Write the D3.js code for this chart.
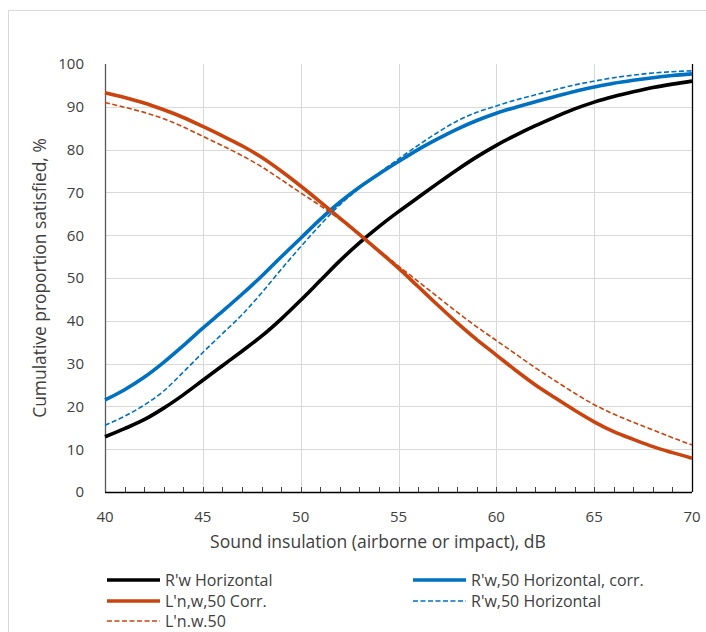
<!DOCTYPE html>
<html>
<head>
<meta charset="utf-8">
<script src="https://cdn.jsdelivr.net/npm/d3@7/dist/d3.min.js"></script>
<style>
  body { margin: 0; background: #fff; }
  text { font-family: "Open Sans", sans-serif; fill: #404040; }
</style>
</head>
<body>
<svg id="chart" width="706" height="632"></svg>
<script>
// sound insulation, dB
const dB = [40, 41, 42, 43, 44, 45, 46, 47, 48, 49, 50, 51, 52, 53, 54, 55,
            56, 57, 58, 59, 60, 61, 62, 63, 64, 65, 66, 67, 68, 69, 70];

// cumulative proportion satisfied, %
const rwHoriz = [12.9, 14.8, 16.9, 19.6, 22.7, 26.1, 29.5, 32.9, 36.4, 40.4, 44.8,
                 49.4, 54.0, 58.2, 62.0, 65.5, 68.8, 72.1, 75.3, 78.3, 81.0,
                 83.4, 85.6, 87.6, 89.5, 91.1, 92.4, 93.5, 94.5, 95.3, 96.0];
const rw50HorizCorr = [21.5, 23.9, 26.8, 30.3, 34.2, 38.3, 42.2, 46.2, 50.4, 54.9, 59.3,
                       63.7, 67.7, 71.2, 74.3, 77.2, 80.0, 82.5, 84.8, 86.8, 88.5,
                       89.9, 91.2, 92.4, 93.6, 94.6, 95.5, 96.2, 96.8, 97.3, 97.7];
const ln50Corr = [93.3, 92.2, 90.9, 89.3, 87.5, 85.4, 83.2, 80.9, 78.2, 75.0, 71.5,
                  67.8, 64.0, 60.2, 56.3, 52.3, 48.0, 43.7, 39.5, 35.6, 32.0,
                  28.4, 25.0, 22.0, 19.1, 16.4, 14.1, 12.3, 10.6, 9.2, 7.9];
const rw50Horiz = [15.6, 17.7, 20.3, 23.6, 28.0, 32.6, 37.0, 41.4, 46.5, 52.0, 57.3,
                   62.4, 67.1, 71.0, 74.5, 77.8, 81.0, 84.0, 86.7, 88.7, 90.2,
                   91.6, 92.8, 94.0, 95.1, 96.0, 96.8, 97.4, 97.9, 98.2, 98.4];
const ln50 = [91.0, 89.9, 88.7, 87.2, 85.3, 83.1, 80.9, 78.6, 76.0, 73.0, 69.9,
              66.9, 63.7, 60.2, 56.5, 52.8, 49.2, 45.6, 42.0, 38.6, 35.4,
              32.2, 29.0, 26.0, 23.1, 20.4, 18.2, 16.3, 14.5, 12.7, 11.0];

const xTicks = [40, 45, 50, 55, 60, 65, 70];
const yTicks = [0, 10, 20, 30, 40, 50, 60, 70, 80, 90, 100];

const seriesList = [
  { name: "R'w Horizontal", values: rwHoriz, color: "#000000", width: 3.6, dash: null },
  { name: "R'w,50 Horizontal, corr.", values: rw50HorizCorr, color: "#0070C0", width: 3.6, dash: null },
  { name: "L'n,w,50 Corr.", values: ln50Corr, color: "#C9440E", width: 3.6, dash: null },
  { name: "R'w,50 Horizontal", values: rw50Horiz, color: "#0070C0", width: 1.6, dash: "5,2.5" },
  { name: "L'n.w.50", values: ln50, color: "#C9440E", width: 1.6, dash: "5,2.5" }
];

const svg = d3.select("#chart");
const plot = { left: 105, right: 692, top: 64, bottom: 492 };

// chart frame
svg.append("rect")
  .attr("x", 8.5).attr("y", 10.5)
  .attr("width", 760).attr("height", 700)
  .attr("fill", "none").attr("stroke", "#d9d9d9");

const xScale = d3.scaleLinear().domain([40, 70]).range([plot.left, plot.right]);
const yScale = d3.scaleLinear().domain([0, 100]).range([plot.bottom, plot.top]);

// gridlines
svg.append("g").selectAll("line")
  .data(yTicks.filter(v => v > 0 && v < 100))
  .join("line")
  .attr("x1", plot.left).attr("x2", plot.right)
  .attr("y1", d => Math.round(yScale(d)) + 0.5).attr("y2", d => Math.round(yScale(d)) + 0.5)
  .attr("stroke", "#d9d9d9").attr("stroke-width", 1);
svg.append("g").selectAll("line")
  .data(xTicks.filter(v => v > 40 && v < 70))
  .join("line")
  .attr("x1", d => Math.round(xScale(d)) + 0.5).attr("x2", d => Math.round(xScale(d)) + 0.5)
  .attr("y1", plot.top).attr("y2", plot.bottom)
  .attr("stroke", "#d9d9d9").attr("stroke-width", 1);

// minor ticks on x axis, every dB, pointing up
svg.append("g").selectAll("line")
  .data(dB)
  .join("line")
  .attr("x1", d => Math.round(xScale(d)) + 0.5).attr("x2", d => Math.round(xScale(d)) + 0.5)
  .attr("y1", plot.bottom).attr("y2", plot.bottom - 5)
  .attr("stroke", "#404040").attr("stroke-width", 1);

// axis lines
svg.append("line")
  .attr("x1", plot.left + 0.5).attr("x2", plot.left + 0.5)
  .attr("y1", plot.top).attr("y2", plot.bottom)
  .attr("stroke", "#595959").attr("stroke-width", 1.3);
svg.append("line")
  .attr("x1", plot.right + 0.5).attr("x2", plot.right + 0.5)
  .attr("y1", plot.top).attr("y2", plot.bottom)
  .attr("stroke", "#000").attr("stroke-width", 1.3);
svg.append("line")
  .attr("x1", plot.left).attr("x2", plot.right)
  .attr("y1", plot.bottom + 0.5).attr("y2", plot.bottom + 0.5)
  .attr("stroke", "#000").attr("stroke-width", 1.5);

// tick labels
svg.append("g").selectAll("text")
  .data(yTicks)
  .join("text")
  .attr("x", 84).attr("y", d => yScale(d))
  .attr("dy", "0.36em")
  .attr("text-anchor", "end")
  .style("font-size", "15px")
  .text(d => d);
svg.append("g").selectAll("text")
  .data(xTicks)
  .join("text")
  .attr("x", d => xScale(d)).attr("y", 522)
  .attr("text-anchor", "middle")
  .style("font-size", "15px")
  .text(d => d);

// axis titles
svg.append("text")
  .attr("x", 378).attr("y", 548)
  .attr("text-anchor", "middle")
  .style("font-size", "17.5px")
  .text("Sound insulation (airborne or impact), dB");
svg.append("text")
  .attr("transform", `translate(46,${(plot.top + plot.bottom) / 2}) rotate(-90)`)
  .attr("text-anchor", "middle")
  .style("font-size", "17.4px")
  .text("Cumulative proportion satisfied, %");

// curves
const line = d3.line()
  .x((d, i) => xScale(dB[i]))
  .y(d => yScale(d))
  .curve(d3.curveMonotoneX);

svg.append("g").selectAll("path")
  .data(seriesList)
  .join("path")
  .attr("d", d => line(d.values))
  .attr("fill", "none")
  .attr("stroke", d => d.color)
  .attr("stroke-width", d => d.width)
  .attr("stroke-dasharray", d => d.dash)
  .attr("stroke-linejoin", "round");

// legend: two columns, row-wise
const legendPos = [[107, 580], [413, 580], [107, 601], [413, 601], [107, 621]];
const legend = svg.append("g").selectAll("g")
  .data(seriesList)
  .join("g")
  .attr("transform", (d, i) => `translate(${legendPos[i][0]},${legendPos[i][1]})`);
legend.append("line")
  .attr("x1", 0).attr("x2", 53)
  .attr("y1", 0).attr("y2", 0)
  .attr("stroke", d => d.color)
  .attr("stroke-width", d => d.width)
  .attr("stroke-dasharray", d => d.dash);
legend.append("text")
  .attr("x", 58).attr("y", 0)
  .attr("dy", "0.36em")
  .style("font-size", "16px")
  .text(d => d.name);
</script>
</body>
</html>
